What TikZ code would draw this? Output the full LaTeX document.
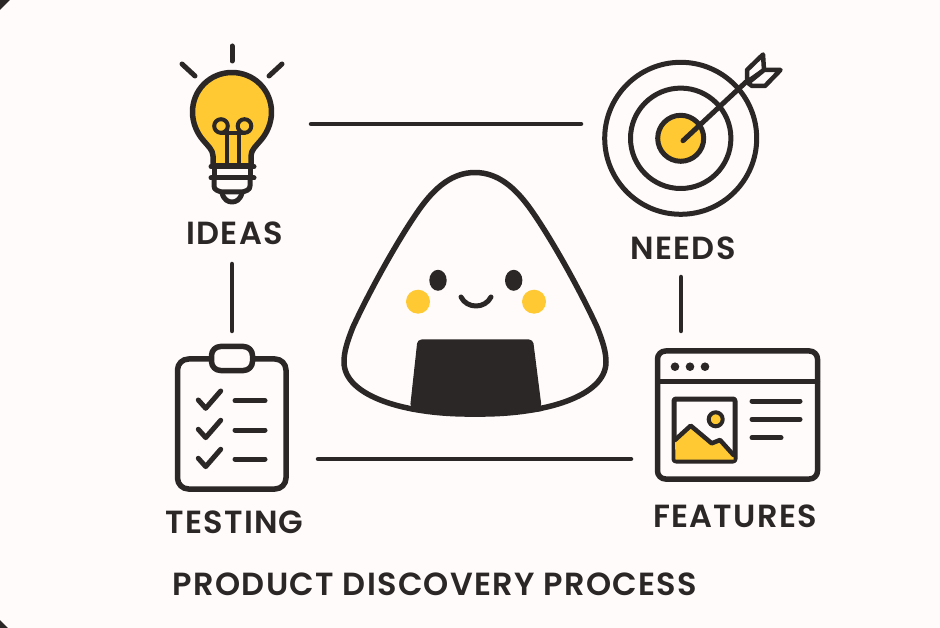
\documentclass[tikz,border=0pt]{standalone}
\usepackage{fontspec}
\setmainfont{Poppins SemiBold}[LetterSpace=4]
\definecolor{ink}{HTML}{2A2726}
\definecolor{gold}{HTML}{FFC933}
\definecolor{paper}{HTML}{FFFBFA}
\tikzset{
  ln/.style={draw=ink,line width=#1,line cap=round,line join=round},
  ln/.default=5.5pt,
  link/.style={ln=4.5pt},
  lab/.style={text=ink,inner sep=0pt,font=\fontsize{32pt}{34pt}\selectfont},
}
\begin{document}
\begin{tikzpicture}[x=1pt,y=-1pt]
\useasboundingbox (0,0) rectangle (940,628);
\fill[paper] (0,0) rectangle (940,628);
\fill[ink] (0,628) -- (0,620) -- (8,628) -- cycle;
\fill[ink] (0,0) -- (10,0) -- (0,10) -- cycle;
% connectors
\coordinate (c1a) at (311,124); \coordinate (c1b) at (581,124);
\coordinate (c2a) at (232,264); \coordinate (c2b) at (232,331);
\coordinate (c3a) at (681,277); \coordinate (c3b) at (681,331);
\coordinate (c4a) at (318,459); \coordinate (c4b) at (631,459);
\draw[link] (c1a) -- (c1b);
\draw[link] (c2a) -- (c2b);
\draw[link] (c3a) -- (c3b);
\draw[link] (c4a) -- (c4b);
% labels
\node[lab] (ideas) at (234.5,233) {IDEAS};
\node[lab] (needs) at (683,248) {NEEDS};
\node[lab] (testing) at (234.5,522) {TESTING};
\node[lab] (features) at (735,516) {FEATURES};
\node[lab] (title) at (435,584) {PRODUCT DISCOVERY PROCESS};
% bulb
\draw[ln=5pt] (232,46) -- (232,61);
\draw[ln=5pt] (182,64) -- (195,76);
\draw[ln=5pt] (282,64) -- (269,76);
\path[fill=gold,ln] (213,166) -- (213,156) .. controls (213,150) and (208,146) .. (203,140)
  .. controls (197,133) and (192.5,123) .. (192.5,112)
  .. controls (192.5,90) and (210,72.5) .. (232,72.5) .. controls (254,72.5) and (271.5,90) .. (271.5,112)
  .. controls (271.5,123) and (267,133) .. (261,140)
  .. controls (256,146) and (251,150) .. (251,156) -- (251,166) -- cycle;
\draw[ln=4pt] (221,126) circle[radius=6.8];
\draw[ln=4pt] (244.5,126) circle[radius=6.8];
\draw[ln=4pt] (226.5,165) -- (226.5,130);
\draw[ln=4pt] (239,165) -- (239,130);
\draw[ln=4pt] (221,133) -- (244.5,133);
\draw[ln=5pt] (211,166.5) -- (254,166.5);
\draw[ln=5pt] (211,178) -- (254,178);
\draw[ln=5pt] (214,167) -- (214,178) (250,167) -- (250,178);
\draw[ln=5pt] (214,178) -- (214,186) .. controls (214,190) and (218,191) .. (222,192) -- (242,192) .. controls (246,191) and (250,190) .. (250,186) -- (250,178);
\draw[ln=5pt] (222,193) .. controls (224,200) and (228,202) .. (232,202) .. controls (236,202) and (240,200) .. (242,193);
% target
\draw[ln=5pt] (680.7,138.3) circle[radius=76];
\draw[ln=5pt] (680.7,138.3) circle[radius=50.2];
\path[fill=gold,ln=5pt] (680.7,138.3) circle[radius=23];
\draw[ln=5pt] (683,140.7) -- (746,82);
\path[fill=paper,ln=4.5pt] (747,82) -- (747,70) -- (763,54.5) -- (764,70) -- cycle;
\path[fill=paper,ln=4.5pt] (748,83) -- (764,70) -- (780.5,70) -- (765,86) -- (752,86) -- cycle;
% clipboard
\path[fill=paper,ln,rounded corners=11pt] (177.5,359) rectangle (286,489);
\path[fill=paper,ln,rounded corners=9pt] (211.5,346.5) rectangle (252.5,370.5);
\foreach \d in {0,29.3,58.3}{
  \draw[ln=5pt] (198.3,400+\d) -- (205.7,408.3+\d) -- (220.7,391+\d);
  \draw[ln=5pt] (235,400.7+\d) -- (265,400.7+\d);
}
% window
\path[fill=paper,ln,rounded corners=8pt] (657.5,351) rectangle (817.5,479);
\draw[ln=5pt] (657.5,381) -- (817.5,381);
\foreach \x in {675,690,705} \fill[ink] (\x,366.7) circle[radius=4.3];
\path[fill=paper,ln=5pt,rounded corners=2pt] (674,399) rectangle (735,461);
\fill[gold] (675,440) -- (690.7,425.7) -- (711.7,443.3) -- (720,440) -- (733.5,455) -- (733.5,459.5) -- (675.5,459.5) -- cycle;
\draw[ln=4.5pt] (675,440) -- (690.7,425.7) -- (711.7,443.3) -- (720,440) -- (733.5,455);
\path[fill=gold,ln=4pt] (715.7,419.3) circle[radius=7];
\draw[ln=5pt] (752,401) -- (800,401);
\draw[ln=5pt] (752,419.3) -- (800,419.3);
\draw[ln=5pt] (752,437.7) -- (781,437.7);
% onigiri
\path[fill=paper,ln=5.5pt] (475,172.5) .. controls (498,172.5) and (515,188) .. (529,207)
 .. controls (550,236) and (580,290) .. (597,327) .. controls (603,342) and (606,352) .. (606,362)
 .. controls (606,396) and (545,415) .. (475,414)
 .. controls (405,415) and (344,396) .. (344,362) .. controls (344,352) and (347,342) .. (353,327)
 .. controls (370,290) and (400,236) .. (421,207) .. controls (435,188) and (452,172.5) .. (475,172.5) -- cycle;
\fill[ink] (410,406) -- (541.7,406) -- (541.7,411) .. controls (520,415.5) and (430,415.5) .. (410,411) -- cycle;
\fill[ink,rounded corners=4pt] (410,408) -- (417.5,339.5) -- (533,339.5) -- (541.7,408) -- cycle;
\fill[ink] (438,280.3) ellipse[x radius=8.7,y radius=10.5];
\fill[ink] (513.7,280.3) ellipse[x radius=8.7,y radius=10.5];
\fill[gold] (418,301.7) circle[radius=12];
\fill[gold] (534,301.7) circle[radius=12];
\draw[ln=5pt] (461,297) .. controls (467,309) and (485,309) .. (491,297);
\end{tikzpicture}
\end{document}
